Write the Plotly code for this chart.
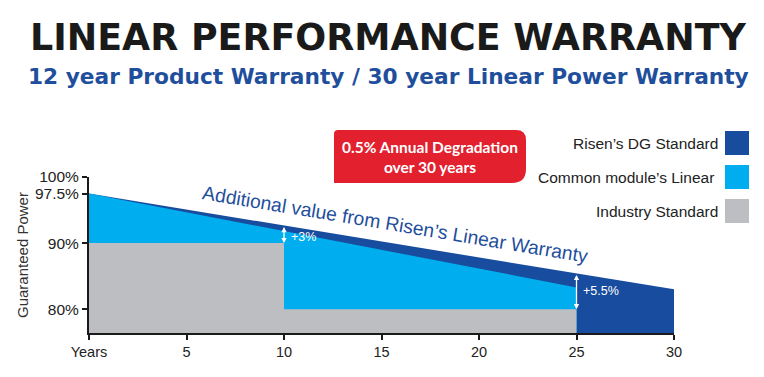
import numpy as np
import plotly.graph_objects as go

# ---------------- data ----------------
risen_years = [0, 30]
risen_values = [97.5, 83.0]          # Risen's DG Standard
common_years = [0, 25]
common_values = [97.5, 83.3]         # Common module's Linear
industry_years = [0, 10, 10, 25]
industry_values = [90, 90, 80, 80]   # Industry Standard

x_tick_vals = [0, 5, 10, 15, 20, 25, 30]
x_tick_text = ["Years", "5", "10", "15", "20", "25", "30"]
y_tick_vals = [80, 90, 97.5, 100]
y_tick_text = ["80%", "90%", "97.5%", "100%"]

series_names = ["Risen’s DG Standard", "Common module’s Linear", "Industry Standard"]
gap_years = [10, 25]
gap_labels = ["+3%", "+5.5%"]

title_text = "LINEAR PERFORMANCE WARRANTY"
subtitle_text = "12 year Product Warranty / 30 year Linear Power Warranty"
callout_text = "0.5% Annual Degradation<br>over 30 years"
slope_text = "Additional value from Risen’s Linear Warranty"
y_title = "Guaranteed Power"

# ---------------- style ----------------
DARK = "#184c9e"
LIGHT = "#00aeef"
GRAY = "#bdbec2"
RED = "#e3202e"
TXT_BLUE = "#1f4f9c"
AX = "#1a1a1a"
FONT = "Liberation Sans"
HEAD_FONT = "DejaVu Sans"

W, H = 764, 377
OFF = 8                    # page body margin offset
RL, RT, PW, PH = 89, 177, 585, 156   # plot area in page pixels
PL, PT = RL - OFF, RT - OFF           # plot area in figure pixels


def px(p):
    return (p - RL) / PW


def py(p):
    return (RT + PH - p) / PH


fig = go.Figure()
fig.add_trace(go.Scatter(x=risen_years, y=risen_values, mode="lines", line=dict(width=0, color=DARK),
                         fill="tozeroy", fillcolor=DARK, name=series_names[0], hoverinfo="skip"))
fig.add_trace(go.Scatter(x=common_years, y=common_values, mode="lines", line=dict(width=0, color=LIGHT),
                         fill="tozeroy", fillcolor=LIGHT, name=series_names[1], hoverinfo="skip"))
fig.add_trace(go.Scatter(x=industry_years, y=industry_values, mode="lines", line=dict(width=0, color=GRAY),
                         fill="tozeroy", fillcolor=GRAY, name=series_names[2], hoverinfo="skip"))

annotations = []
shapes = []

# title + subtitle
annotations.append(dict(x=px(388), y=py(37), xref="paper", yref="paper", text=f"<b>{title_text}</b>",
                        showarrow=False, xanchor="center", yanchor="middle",
                        font=dict(family=HEAD_FONT, size=36.4, color="#1a1a1a")))
annotations.append(dict(x=px(388), y=py(76), xref="paper", yref="paper", text=f"<b>{subtitle_text}</b>",
                        showarrow=False, xanchor="center", yanchor="middle",
                        font=dict(family=HEAD_FONT, size=21.7, color=TXT_BLUE)))

# red callout box with rounded corners
x0, x1, y0, y1 = 334, 526, 130, 183
r_tl, r_tr, r_br = 4, 10, 14
pts = [
    ("M", (x0 + r_tl, y0)), ("L", (x1 - r_tr, y0)), ("Q", (x1, y0), (x1, y0 + r_tr)),
    ("L", (x1, y1 - r_br)), ("Q", (x1, y1), (x1 - r_br, y1)), ("L", (x0, y1)),
    ("L", (x0, y0 + r_tl)), ("Q", (x0, y0), (x0 + r_tl, y0)),
]
path = ""
for item in pts:
    cmd = item[0]
    coords = " ".join(f"{px(p[0]):.5f},{py(p[1]):.5f}" for p in item[1:])
    path += f"{cmd} {coords} "
path += "Z"
shapes.append(dict(type="path", xref="paper", yref="paper", path=path, fillcolor=RED, line=dict(width=0)))
annotations.append(dict(x=px(430), y=py(156.5), xref="paper", yref="paper", text=f"<b>{callout_text}</b>",
                        showarrow=False, xanchor="center", yanchor="middle",
                        font=dict(family="Lato", size=15.5, color="white")))

# legend (text + squares)
leg_colors = [DARK, LIGHT, GRAY]
leg_y = [143, 177, 211]
leg_right = [720, 716, 720]
for name, col, yc, xr in zip(series_names, leg_colors, leg_y, leg_right):
    shapes.append(dict(type="rect", xref="paper", yref="paper", x0=px(725), x1=px(749),
                       y0=py(yc + 12), y1=py(yc - 12), fillcolor=col, line=dict(width=0)))
    annotations.append(dict(x=px(xr), y=py(yc), xref="paper", yref="paper", text=name, showarrow=False,
                            xanchor="right", yanchor="middle",
                            font=dict(family=FONT, size=15.5, color="#222222")))

# slanted text along the Risen line
annotations.append(dict(x=15.69, y=92.75, xref="x", yref="y", text=slope_text, showarrow=False,
                        textangle=9.4, xanchor="center", yanchor="middle",
                        font=dict(family=FONT, size=19.3, color=TXT_BLUE)))

# gap arrows (white, double headed)
label_shift = [-0.4, 0.0]
for gx, lab, sh in zip(gap_years, gap_labels, label_shift):
    top = float(np.interp(gx, risen_years, risen_values))
    if gx == industry_years[1]:
        bottom = industry_values[0]
    else:
        bottom = float(np.interp(gx, industry_years, industry_values))
    annotations.append(dict(x=gx, y=bottom, ax=gx, ay=top, xref="x", yref="y", axref="x", ayref="y",
                            text="", showarrow=True, arrowhead=2, startarrowhead=2, arrowside="end+start",
                            arrowsize=0.8, arrowwidth=1.3, arrowcolor="white"))
    annotations.append(dict(x=gx + 0.25, y=(top + bottom) / 2 + sh, xref="x", yref="y", text=lab,
                            showarrow=False, xanchor="left", yanchor="middle",
                            font=dict(family=FONT, size=12.5, color="white")))

# y axis title
annotations.append(dict(x=px(22), y=py(255), xref="paper", yref="paper", text=y_title, showarrow=False,
                        textangle=-90, xanchor="center", yanchor="middle",
                        font=dict(family=FONT, size=15, color="#333333")))

fig.update_layout(
    width=W, height=H, autosize=False,
    margin=dict(l=PL, r=W - PL - PW, t=PT, b=H - PT - PH, pad=0),
    paper_bgcolor="white", plot_bgcolor="white",
    showlegend=False,
    annotations=annotations, shapes=shapes,
    xaxis=dict(range=[0, 30], tickvals=x_tick_vals, ticktext=x_tick_text, showgrid=False, zeroline=False,
               showline=True, linecolor=AX, linewidth=2, ticks="outside", ticklen=5, tickwidth=2,
               tickcolor=AX, tickfont=dict(family=FONT, size=14.5, color="#222222")),
    yaxis=dict(range=[76.4, 100], tickvals=y_tick_vals, ticktext=y_tick_text, showgrid=False, zeroline=False,
               showline=True, linecolor=AX, linewidth=2, ticks="outside", ticklen=5, tickwidth=2,
               tickcolor=AX, tickfont=dict(family=FONT, size=15.5, color="#222222")),
)

fig.write_html("out.html")
